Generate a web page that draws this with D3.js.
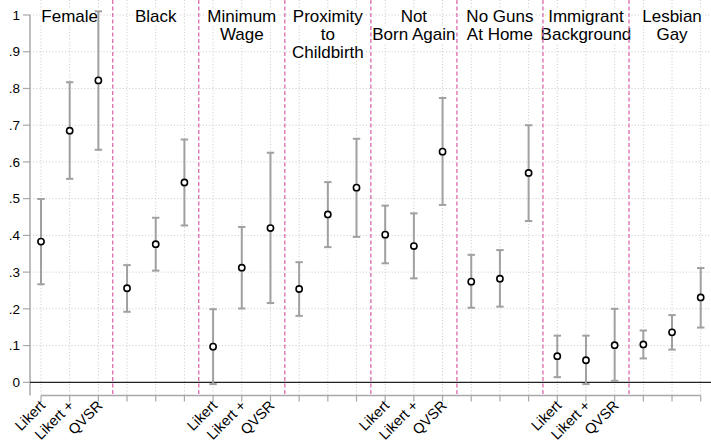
<!DOCTYPE html>
<html>
<head>
<meta charset="utf-8">
<script src="https://cdn.jsdelivr.net/npm/d3@7"></script>
<style>
  body { margin: 0; background: #fff; }
  text { font-family: "Liberation Sans", Arial, Helvetica, sans-serif; fill: #000; }
</style>
</head>
<body>
<div id="chart"></div>
<script>
// group titles (one entry per line)
const groupTitles = [
	["Female"], ["Black"], ["Minimum", "Wage"], ["Proximity", "to", "Childbirth"],
	["Not", "Born Again"], ["No Guns", "At Home"], ["Immigrant", "Background"], ["Lesbian", "Gay"]
]
const methods = ["Likert", "Likert +", "QVSR"]
// only every other group shows its method labels
const labeledGroups = [0, 2, 4, 6]

// point estimates and confidence bounds, 3 per group, in group order
const estimate = [0.383, 0.685, 0.822, 0.256, 0.376, 0.544, 0.097, 0.312, 0.420, 0.254, 0.457, 0.530,
	0.402, 0.371, 0.628, 0.274, 0.282, 0.570, 0.071, 0.060, 0.101, 0.103, 0.136, 0.231]
const ciLow = [0.267, 0.554, 0.633, 0.192, 0.304, 0.427, -0.005, 0.201, 0.216, 0.181, 0.368, 0.396,
	0.324, 0.283, 0.483, 0.203, 0.206, 0.439, 0.014, -0.005, 0.004, 0.065, 0.089, 0.149]
const ciHigh = [0.499, 0.817, 1.010, 0.319, 0.448, 0.661, 0.199, 0.423, 0.625, 0.327, 0.545, 0.663,
	0.481, 0.460, 0.774, 0.347, 0.360, 0.700, 0.127, 0.127, 0.200, 0.141, 0.183, 0.311]
const yTicks = [0, 0.1, 0.2, 0.3, 0.4, 0.5, 0.6, 0.7, 0.8, 0.9, 1]

const width = 711, height = 444
const left = 30, bottom = 395.5

var svg = d3.select("#chart").append("svg")
	.attr("width", width)
	.attr("height", height)

const nPts = groupTitles.length * 3
const xScale = d3.scaleLinear().domain([1, nPts]).range([41, 700.7])
const yScale = d3.scaleLinear().domain([0, 1]).range([382.3, 15])

var points = d3.range(nPts).map(i => ({
	pos: i + 1,
	group: Math.floor(i / 3),
	method: methods[i % 3],
	est: estimate[i], lo: ciLow[i], hi: ciHigh[i]
}))

// GRID
svg.append("g").selectAll("line").data(yTicks.filter(d => d > 0)).enter()
	.append("line")
	.attr("x1", left).attr("x2", width)
	.attr("y1", d => yScale(d)).attr("y2", d => yScale(d))
	.attr("stroke", "#c8c8c8").attr("stroke-width", 1)
	.attr("stroke-dasharray", "1,2.2")

svg.append("g").selectAll("line").data(points).enter()
	.append("line")
	.attr("x1", d => xScale(d.pos)).attr("x2", d => xScale(d.pos))
	.attr("y1", 0).attr("y2", bottom)
	.attr("stroke", "#c8c8c8").attr("stroke-width", 1)
	.attr("stroke-dasharray", "1,2.2")

// GROUP TITLES with white box behind each line
var titles = svg.append("g")
groupTitles.forEach((lines, g) => {
	const cx = xScale(g * 3 + 2)
	lines.forEach((ln, k) => {
		var t = titles.append("text")
			.attr("x", cx)
			.attr("y", 22.3 + k * 17.7)
			.attr("text-anchor", "middle")
			.style("font-size", "17px")
			.text(ln)
		var bb = t.node().getBBox()
		titles.insert("rect", function() { return t.node() })
			.attr("x", bb.x - 1).attr("y", bb.y + 1)
			.attr("width", bb.width + 2).attr("height", bb.height - 2)
			.attr("fill", "#fff")
	})
})

// SEPARATORS between groups
svg.append("g").selectAll("line").data(d3.range(1, groupTitles.length)).enter()
	.append("line")
	.attr("x1", d => xScale(d * 3 + 0.5)).attr("x2", d => xScale(d * 3 + 0.5))
	.attr("y1", 0).attr("y2", bottom)
	.attr("stroke", "#df74b2").attr("stroke-width", 1.4)
	.attr("stroke-dasharray", "4,2.5")

// Y-AXIS
svg.append("line")
	.attr("x1", left).attr("x2", left)
	.attr("y1", yScale(1)).attr("y2", bottom)
	.attr("stroke", "#a8a8a8").attr("stroke-width", 1.5)

var yAxis = svg.append("g").selectAll("g").data(yTicks).enter().append("g")
yAxis.append("line")
	.attr("x1", left - 7).attr("x2", left)
	.attr("y1", d => yScale(d)).attr("y2", d => yScale(d))
	.attr("stroke", "#a8a8a8").attr("stroke-width", 1.2)
yAxis.append("text")
	.attr("x", left - 10)
	.attr("y", d => yScale(d))
	.attr("dy", "0.35em")
	.attr("text-anchor", "end")
	.style("font-size", "13.5px")
	.text(d => d === 0 ? "0" : d === 1 ? "1" : d3.format(".1f")(d).replace(/^0/, ""))

// zero line
svg.append("line")
	.attr("x1", left).attr("x2", width)
	.attr("y1", yScale(0)).attr("y2", yScale(0))
	.attr("stroke", "#222").attr("stroke-width", 1.2)

// X-AXIS
svg.append("line")
	.attr("x1", xScale(1)).attr("x2", xScale(nPts))
	.attr("y1", bottom).attr("y2", bottom)
	.attr("stroke", "#a8a8a8").attr("stroke-width", 1.5)

svg.append("g").selectAll("line").data(points).enter()
	.append("line")
	.attr("x1", d => xScale(d.pos)).attr("x2", d => xScale(d.pos))
	.attr("y1", bottom).attr("y2", bottom + 6)
	.attr("stroke", "#a8a8a8").attr("stroke-width", 1.2)

svg.append("g").selectAll("text")
	.data(points.filter(d => labeledGroups.includes(d.group))).enter()
	.append("text")
	.attr("text-anchor", "end")
	.attr("transform", d => "translate(" + (xScale(d.pos) + 5) + "," + (bottom + 11) + ") rotate(-45)")
	.style("font-size", "14.5px")
	.text(d => d.method)

// ERROR BARS
var bars = svg.append("g").attr("stroke", "#a0a0a0").attr("stroke-width", 2)
bars.selectAll(".ci").data(points).enter()
	.append("line")
	.attr("x1", d => xScale(d.pos)).attr("x2", d => xScale(d.pos))
	.attr("y1", d => yScale(d.lo)).attr("y2", d => yScale(d.hi))
bars.selectAll(".capHi").data(points).enter()
	.append("line")
	.attr("x1", d => xScale(d.pos) - 3.7).attr("x2", d => xScale(d.pos) + 3.7)
	.attr("y1", d => yScale(d.hi)).attr("y2", d => yScale(d.hi))
bars.selectAll(".capLo").data(points).enter()
	.append("line")
	.attr("x1", d => xScale(d.pos) - 3.7).attr("x2", d => xScale(d.pos) + 3.7)
	.attr("y1", d => yScale(d.lo)).attr("y2", d => yScale(d.lo))

// POINTS
svg.append("g").selectAll("circle").data(points).enter()
	.append("circle")
	.attr("cx", d => xScale(d.pos))
	.attr("cy", d => yScale(d.est))
	.attr("r", 3.1)
	.attr("fill", "#fff")
	.attr("stroke", "#000")
	.attr("stroke-width", 1.6)
</script>
</body>
</html>
